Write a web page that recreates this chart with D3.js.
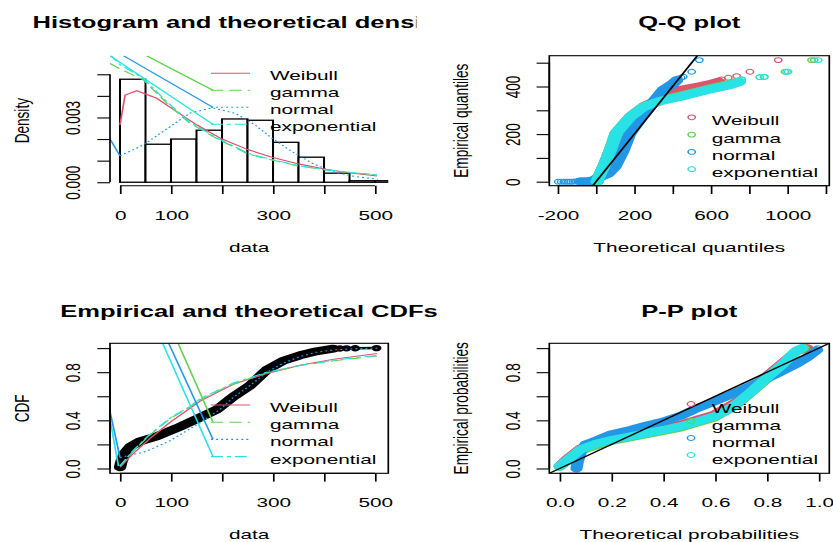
<!DOCTYPE html>
<html>
<head>
<meta charset="utf-8">
<script src="https://cdn.jsdelivr.net/npm/d3@7"></script>
<style>
  body { margin: 0; background: #fff; }
  svg { display: block; }
  text { font-family: "Liberation Sans", Arial, Helvetica, sans-serif; fill: #000; }
</style>
</head>
<body>
<svg id="chart"></svg>
<script>
// ---- data ----
var distNames  = ["Weibull", "gamma", "normal", "exponential"];
var distColors = ["#DF536B", "#61D04F", "#2297E6", "#28E2E5"];
var distDash   = [null, "8,4", "1.3,2", "7.8,2.6,2.6,2.6"];

var histBreaks  = [0, 50, 100, 150, 200, 250, 300, 350, 400, 450, 500, 550];
var histDensity = [0.00477, 0.00176, 0.00200, 0.00241, 0.00293, 0.00287, 0.00185, 0.00116, 0.00042, 0.00007, 0.00007];

var densWeibullX = [0, 10, 33, 72, 111, 151, 200, 252, 298, 350, 403, 448, 504];
var densWeibullY = [0.00265, 0.00404, 0.00424, 0.00389, 0.00327, 0.00265, 0.00200, 0.00150, 0.00116, 0.00085, 0.00060, 0.00044, 0.00029];
var densGammaX   = [-19.6, 0, 46, 92, 137, 190, 252, 298, 350, 403, 448, 504];
var densGammaY   = [0.00550, 0.00525, 0.00474, 0.00366, 0.00273, 0.00202, 0.00130, 0.00103, 0.00075, 0.00057, 0.00046, 0.00034];
var densNormalX  = [0, 46, 98, 137, 181, 226, 265, 298, 337, 377, 416, 462, 505];
var densNormalY  = [0.00122, 0.00173, 0.00257, 0.00320, 0.00345, 0.00319, 0.00265, 0.00204, 0.00142, 0.00088, 0.00049, 0.00026, 0.00014];
var densExpX     = [-19.6, 0, 46, 92, 137, 190, 252, 298, 350, 403, 448, 504];
var densExpY     = [0.00590, 0.00545, 0.00480, 0.00372, 0.00278, 0.00205, 0.00133, 0.00105, 0.00077, 0.00058, 0.00046, 0.00035];

var ecdfX     = [0, 3, 10, 20, 39, 72, 111, 150, 190, 222, 255, 288, 320, 353, 385, 418];
var ecdfY     = [0.01, 0.06, 0.13, 0.18, 0.225, 0.267, 0.335, 0.41, 0.49, 0.596, 0.69, 0.82, 0.895, 0.94, 0.973, 0.995];
var ecdfTailX = [431, 444, 461, 503];
var ecdfTailY = [0.997, 0.998, 0.999, 1.0];

var cdfWeibullX = [0, 25, 59, 100, 137, 157, 222, 288, 353, 419, 504];
var cdfWeibullY = [0.01, 0.12, 0.25, 0.39, 0.50, 0.56, 0.70, 0.79, 0.857, 0.907, 0.955];
var cdfGammaX   = [0, 25, 59, 100, 137, 157, 203, 222, 288, 353, 419, 504];
var cdfGammaY   = [0.02, 0.14, 0.28, 0.42, 0.51, 0.57, 0.665, 0.70, 0.795, 0.855, 0.895, 0.935];
var cdfNormalX  = [0, 50, 98, 157, 196, 222, 255, 288, 320, 353, 385, 418, 460, 505];
var cdfNormalY  = [0.09, 0.14, 0.23, 0.38, 0.49, 0.59, 0.69, 0.80, 0.875, 0.93, 0.965, 0.985, 0.995, 1.0];
var cdfExpX     = [0, 25, 59, 100, 137, 157, 203, 222, 288, 353, 419, 504];
var cdfExpY     = [0.02, 0.145, 0.285, 0.425, 0.515, 0.58, 0.67, 0.71, 0.80, 0.857, 0.90, 0.94];

// Q-Q: dense runs of points, then the sparse ones
var qqWeibullX = [5, 12, 40, 75, 105, 180, 255, 330, 380, 440, 526, 600, 640];
var qqWeibullY = [0, 14, 63, 133, 203, 273, 318, 345, 368, 385, 398, 410, 420];
var qqWeibullPtsX = [656, 691, 735, 804, 952];
var qqWeibullPtsY = [430, 437, 444, 462, 511];
var qqGammaX = [5, 12, 40, 75, 105, 180, 250, 340, 439, 578, 700, 740];
var qqGammaY = [0, 14, 63, 133, 203, 273, 316, 342, 360, 388, 410, 420];
var qqGammaPtsX = [760, 856, 880, 987, 1126, 1140];
var qqGammaPtsY = [430, 439, 441, 462, 511, 511];
var qqNormalX = [-80, -40, -15, 3.5, 64, 99, 143, 177, 239, 308, 351, 404, 421];
var qqNormalY = [1, 2, 4, 14, 35, 63, 133, 203, 273, 343, 385, 413, 425];
var qqNormalPtsX = [-197, -182, -168, -155, -143, -132, -120, -108, -95, 430, 445, 456, 500, 540];
var qqNormalPtsY = [0, 0, 0, 0, 0, 0, 0, 1, 1, 434, 437, 441, 462, 511];
var qqExpX = [5, 12, 40, 75, 105, 180, 250, 340, 439, 578, 700, 750];
var qqExpY = [0, 14, 63, 133, 203, 273, 315, 340, 357, 385, 406, 420];
var qqExpPtsX = [761, 856, 877, 996, 1004, 1161];
var qqExpPtsY = [430, 439, 440, 462, 462, 511];

// P-P
var ppWeibullX = [0.0, 0.03, 0.08, 0.2, 0.336, 0.465, 0.593, 0.683, 0.786, 0.862, 0.914, 0.955];
var ppWeibullY = [0.02, 0.08, 0.165, 0.25, 0.31, 0.365, 0.445, 0.555, 0.745, 0.88, 0.975, 1.0];
var ppGammaX   = [0.0, 0.03, 0.08, 0.2, 0.336, 0.465, 0.593, 0.683, 0.786, 0.862, 0.914, 0.94];
var ppGammaY   = [0.015, 0.065, 0.15, 0.23, 0.285, 0.34, 0.42, 0.53, 0.72, 0.865, 0.975, 1.0];
var ppNormalX  = [0.065, 0.07, 0.08, 0.1, 0.144, 0.2, 0.272, 0.34, 0.4, 0.47, 0.53, 0.6, 0.657, 0.72, 0.786, 0.85, 0.914, 0.96, 0.99];
var ppNormalY  = [0.0, 0.06, 0.13, 0.2, 0.235, 0.285, 0.32, 0.36, 0.39, 0.44, 0.5, 0.56, 0.61, 0.67, 0.734, 0.8, 0.87, 0.93, 0.98];
var ppNormalPtsX = [1.0, 0.995];
var ppNormalPtsY = [0.985, 1.0];
var ppExpX = [0.0, 0.03, 0.08, 0.14, 0.208, 0.27, 0.336, 0.4, 0.465, 0.53, 0.593, 0.64, 0.683, 0.735, 0.786, 0.83, 0.862, 0.89, 0.914, 0.935];
var ppExpY = [0.02, 0.07, 0.157, 0.205, 0.24, 0.265, 0.294, 0.32, 0.35, 0.39, 0.43, 0.475, 0.54, 0.63, 0.73, 0.81, 0.87, 0.93, 0.98, 1.0];

var densTicks  = [0, 0.001, 0.002, 0.003, 0.004, 0.005];
var densLabels = ["0.000", "", "", "0.003", "", ""];
var dataTicks  = [0, 100, 200, 300, 400, 500];
var dataLabels = ["0", "100", "", "300", "", "500"];
var qqXTicks   = [-200, 0, 200, 400, 600, 800, 1000, 1200];
var qqXLabels  = ["-200", "", "200", "", "600", "", "1000", ""];
var qqYTicks   = [0, 100, 200, 300, 400, 500];
var qqYLabels  = ["0", "", "200", "", "400", ""];
var probTicks  = [0, 0.2, 0.4, 0.6, 0.8, 1.0];
var probLabels = ["0.0", "", "0.4", "", "0.8", ""];
var ppXLabels  = ["0.0", "0.2", "0.4", "0.6", "0.8", "1.0"];

// ---- page ----
var SX = 1.53;            // the reference is stretched sideways
var W0 = 833 / SX, H = 542;
var FS = 13.6, TITLE_FS = 16.7, TICK = 8.3, LW = 1.1;
function ux(v) { return v / SX; }

var svg = d3.select("#chart")
            .attr("width", 833)
            .attr("height", H)
            .attr("viewBox", "0 0 " + W0 + " " + H)
            .attr("preserveAspectRatio", "none");

function makePanel(id, box, xDomain, yDomain) {
  var p = { box: box };
  p.x = d3.scaleLinear().domain(xDomain).range([ux(box.left), ux(box.right)]);
  p.y = d3.scaleLinear().domain(yDomain).range([box.bottom, box.top]);
  svg.append("clipPath").attr("id", id)
     .append("rect")
     .attr("x", ux(box.left)).attr("y", box.top)
     .attr("width", ux(box.right - box.left)).attr("height", box.bottom - box.top);
  p.plot = svg.append("g").attr("clip-path", "url(#" + id + ")");
  p.line = d3.line().x(function(d) { return p.x(d[0]); }).y(function(d) { return p.y(d[1]); });
  return p;
}

function drawBox(p) {
  svg.append("rect")
     .attr("x", ux(p.box.left)).attr("y", p.box.top)
     .attr("width", ux(p.box.right - p.box.left)).attr("height", p.box.bottom - p.box.top)
     .attr("fill", "none").attr("stroke", "#000").attr("stroke-width", LW);
}

function drawAxes(p, xTicks, xLabels, yTicks, yLabels) {
  var gx = svg.append("g")
              .attr("transform", "translate(0," + p.box.bottom + ")")
              .call(d3.axisBottom(p.x).tickValues(xTicks)
                      .tickFormat(function(d, i) { return xLabels[i]; })
                      .tickSize(TICK).tickSizeOuter(0));
  gx.select(".domain").remove();
  gx.append("line")
    .attr("x1", p.x(xTicks[0])).attr("x2", p.x(xTicks[xTicks.length - 1]))
    .attr("stroke", "#000").attr("stroke-width", LW);
  gx.selectAll(".tick line").attr("stroke-width", LW);
  gx.selectAll(".tick text")
    .attr("y", 29.3).attr("dy", "0.35em")
    .attr("font-size", FS).attr("fill", "#000");

  var gy = svg.append("g")
              .attr("transform", "translate(" + ux(p.box.left) + ",0)")
              .call(d3.axisLeft(p.y).tickValues(yTicks)
                      .tickFormat(function(d, i) { return yLabels[i]; })
                      .tickSize(TICK).tickSizeOuter(0));
  gy.select(".domain").remove();
  gy.append("line")
    .attr("y1", p.y(yTicks[0])).attr("y2", p.y(yTicks[yTicks.length - 1]))
    .attr("stroke", "#000").attr("stroke-width", LW);
  gy.selectAll(".tick line").attr("stroke-width", LW);
  gy.selectAll(".tick text")
    .attr("x", null).attr("dy", "0.35em")
    .attr("text-anchor", "middle")
    .attr("transform", "translate(" + (-ux(37)) + ",0) rotate(-90)")
    .attr("font-size", FS).attr("fill", "#000");
  [gx, gy].forEach(function(g) { g.attr("font-family", null).attr("font-size", null); });
}

function label(text, cx, cy, opts) {
  opts = opts || {};
  var t = (opts.parent || svg).append("text")
             .attr("x", ux(cx)).attr("y", cy).attr("dy", "0.35em")
             .attr("text-anchor", opts.anchor || "middle")
             .attr("font-size", opts.size || FS)
             .text(text);
  if (opts.bold) t.attr("font-weight", "bold");
  if (opts.rotate) t.attr("transform", "rotate(-90," + ux(cx) + "," + cy + ")");
  return t;
}

function axisTitles(p, xTitle, yTitle) {
  label(xTitle, (p.box.left + p.box.right) / 2, p.box.bottom + 61.3);
  label(yTitle, p.box.left - 88.5, (p.box.top + p.box.bottom) / 2, { rotate: true });
}

function curve(p, xs, ys, k) {
  p.plot.append("path")
        .datum(d3.zip(xs, ys))
        .attr("d", p.line)
        .attr("fill", "none")
        .attr("stroke", distColors[k])
        .attr("stroke-width", LW)
        .attr("stroke-dasharray", distDash[k]);
}

function segment(g, x1, y1, x2, y2, k, dashed) {
  g.append("line")
   .attr("x1", x1).attr("y1", y1).attr("x2", x2).attr("y2", y2)
   .attr("stroke", distColors[k]).attr("stroke-width", LW)
   .attr("stroke-dasharray", dashed ? distDash[k] : null);
}

function band(p, xs, ys, color, width) {
  p.plot.append("path")
        .datum(d3.zip(xs, ys))
        .attr("d", p.line)
        .attr("fill", "none")
        .attr("stroke", color)
        .attr("stroke-width", width)
        .attr("stroke-linejoin", "round")
        .attr("stroke-linecap", "round");
}

function rings(p, xs, ys, color) {
  p.plot.selectAll(null)
        .data(d3.zip(xs, ys))
        .enter()
        .append("circle")
        .attr("cx", function(d) { return p.x(d[0]); })
        .attr("cy", function(d) { return p.y(d[1]); })
        .attr("r", 2.4)
        .attr("fill", "none")
        .attr("stroke", color)
        .attr("stroke-width", 1);
}

// line legend with the stray segments that run into it
function lineLegend(rows, textRows, trails, p) {
  distNames.forEach(function(name, k) {
    segment(svg, ux(211), rows[k], ux(250), rows[k], k, true);
    label(name, 270, textRows[k], { anchor: "start" });
  });
  trails.forEach(function(t) {
    segment(p.plot, p.x(t[1]), p.y(t[2]), ux(213), rows[t[0]], t[0], false);
  });
}

function pointLegend(symX, rows, textRows) {
  distNames.forEach(function(name, k) {
    svg.append("circle")
       .attr("cx", ux(symX)).attr("cy", rows[k]).attr("r", 2.4)
       .attr("fill", "none").attr("stroke", distColors[k]).attr("stroke-width", 1);
    label(name, 711.7, textRows[k], { anchor: "start" });
  });
}

// ---- panel 1: histogram and densities ----
var hist = makePanel("clipHist", { left: 110, right: 388.3, top: 55.7, bottom: 185.7 },
                     [-19.6, 526], [-0.00016, 0.00586]);
hist.plot.selectAll(".bar")
    .data(histDensity)
    .enter()
    .append("rect")
    .attr("x", function(d, i) { return hist.x(histBreaks[i]); })
    .attr("width", function(d, i) { return hist.x(histBreaks[i + 1]) - hist.x(histBreaks[i]); })
    .attr("y", function(d) { return hist.y(d); })
    .attr("height", function(d) { return hist.y(0) - hist.y(d); })
    .attr("fill", "#fff").attr("stroke", "#000").attr("stroke-width", LW * 1.2);
curve(hist, densWeibullX, densWeibullY, 0);
curve(hist, densGammaX, densGammaY, 1);
curve(hist, densNormalX, densNormalY, 2);
curve(hist, densExpX, densExpY, 3);
segment(hist.plot, hist.x(-19.6), hist.y(0.00201), hist.x(densNormalX[0]), hist.y(densNormalY[0]), 2, false);
lineLegend([73.3, 90.3, 107.3, 124.3], [75, 92, 109, 126],
           [[1, 52, 0.00586], [2, 6.5, 0.00586], [3, -19.6, 0.00586]], hist);
drawAxes(hist, dataTicks, dataLabels, densTicks, densLabels);
axisTitles(hist, "data", "Density");

// ---- panel 2: Q-Q plot ----
var qq = makePanel("clipQQ", { left: 549.3, right: 829.3, top: 55.7, bottom: 185.7 },
                   [-243.9, 1218.8], [-16.8, 529.4]);
band(qq, qqWeibullX, qqWeibullY, distColors[0], 8.5);
rings(qq, qqWeibullPtsX, qqWeibullPtsY, distColors[0]);
band(qq, qqGammaX, qqGammaY, distColors[1], 8.5);
rings(qq, qqGammaPtsX, qqGammaPtsY, distColors[1]);
band(qq, qqNormalX, qqNormalY, distColors[2], 8.5);
rings(qq, qqNormalPtsX, qqNormalPtsY, distColors[2]);
band(qq, qqExpX, qqExpY, distColors[3], 8.5);
rings(qq, qqExpPtsX, qqExpPtsY, distColors[3]);
qq.plot.append("path")
       .datum([[-243.9, -243.9], [1218.8, 1218.8]])
       .attr("d", qq.line)
       .attr("stroke", "#000").attr("stroke-width", LW * 1.2);
pointLegend(691.7, [117.3, 134.6, 151.9, 169.2], [120.7, 138, 155.3, 172.6]);
drawBox(qq);
drawAxes(qq, qqXTicks, qqXLabels, qqYTicks, qqYLabels);
axisTitles(qq, "Theoretical quantiles", "Empirical quantiles");

// ---- panel 3: CDFs ----
var cdf = makePanel("clipCDF", { left: 110, right: 388.3, top: 343.3, bottom: 473.3 },
                    [-19.6, 526], [-0.04, 1.04]);
band(cdf, ecdfX, ecdfY, "#000", 8);
cdf.plot.selectAll(null)
        .data(d3.zip(ecdfTailX, ecdfTailY))
        .enter()
        .append("circle")
        .attr("cx", function(d) { return cdf.x(d[0]); })
        .attr("cy", function(d) { return cdf.y(d[1]); })
        .attr("r", 3.2)
        .attr("fill", "#000");
cdf.plot.append("path")
        .datum(d3.zip(ecdfTailX, ecdfTailY))
        .attr("d", cdf.line)
        .attr("fill", "none").attr("stroke", "#000").attr("stroke-width", 2.5);
curve(cdf, cdfWeibullX, cdfWeibullY, 0);
curve(cdf, cdfGammaX, cdfGammaY, 1);
curve(cdf, cdfNormalX, cdfNormalY, 2);
curve(cdf, cdfExpX, cdfExpY, 3);
segment(cdf.plot, cdf.x(-19.6), cdf.y(0.472), cdf.x(cdfNormalX[0]), cdf.y(cdfNormalY[0]), 2, false);
segment(cdf.plot, cdf.x(-19.6), cdf.y(0.41), cdf.x(-3), cdf.y(cdfExpY[0]), 3, false);
lineLegend([405, 422.2, 439.4, 456.6], [407.3, 424.5, 441.7, 458.9],
           [[1, 114, 1.04], [2, 95.5, 1.04], [3, 83.7, 1.04]], cdf);
drawBox(cdf);
drawAxes(cdf, dataTicks, dataLabels, probTicks, probLabels);
axisTitles(cdf, "data", "CDF");

// ---- panel 4: P-P plot ----
var pp = makePanel("clipPP", { left: 549.3, right: 829.3, top: 343.3, bottom: 473.3 },
                   [-0.04, 1.04], [-0.04, 1.04]);
band(pp, ppWeibullX, ppWeibullY, distColors[0], 8);
band(pp, ppGammaX, ppGammaY, distColors[1], 8);
band(pp, ppNormalX, ppNormalY, distColors[2], 8);
rings(pp, ppNormalPtsX, ppNormalPtsY, distColors[2]);
band(pp, ppExpX, ppExpY, distColors[3], 8);
pp.plot.append("path")
       .datum([[-0.04, -0.04], [1.04, 1.04]])
       .attr("d", pp.line)
       .attr("stroke", "#000").attr("stroke-width", LW * 1.2);
pointLegend(691, [404, 421, 438, 455], [408.3, 425.3, 442.3, 459.3]);
drawBox(pp);
drawAxes(pp, probTicks, ppXLabels, probTicks, probLabels);
axisTitles(pp, "Theoretical probabilities", "Empirical probabilities");

// ---- titles ----
svg.append("clipPath").attr("id", "clipFig1")
   .append("rect").attr("x", 0).attr("y", 0).attr("width", ux(416.5)).attr("height", 280);
var fig1 = svg.append("g").attr("clip-path", "url(#clipFig1)");
label("Histogram and theoretical densities", 249, 22, { bold: true, size: TITLE_FS, parent: fig1 });
label("Q-Q plot", 689.3, 22, { bold: true, size: TITLE_FS });
label("Empirical and theoretical CDFs", 249, 311, { bold: true, size: TITLE_FS });
label("P-P plot", 689.3, 311, { bold: true, size: TITLE_FS });
</script>
</body>
</html>
